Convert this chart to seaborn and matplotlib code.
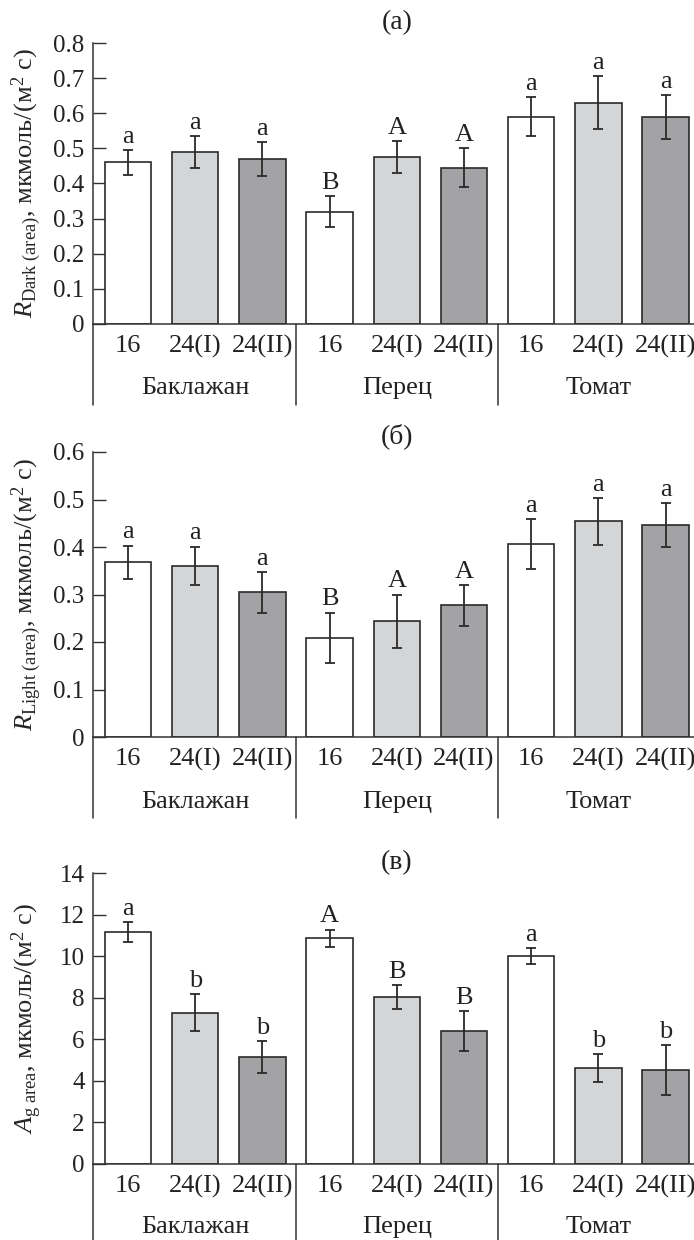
import numpy as np
import pandas as pd
import matplotlib
matplotlib.use("Agg")
import matplotlib.pyplot as plt
import seaborn as sns
from matplotlib.transforms import blended_transform_factory

# ---- data -------------------------------------------------------------
crops = ["Баклажан", "Перец", "Томат"]
regimes = ["16", "24(I)", "24(II)"]

r_dark = [0.46, 0.49, 0.47, 0.32, 0.475, 0.445, 0.59, 0.63, 0.59]
r_dark_err = [0.036, 0.045, 0.049, 0.044, 0.046, 0.056, 0.055, 0.076, 0.062]
r_dark_letters = ["a", "a", "a", "B", "A", "A", "a", "a", "a"]

r_light = [0.368, 0.361, 0.305, 0.209, 0.244, 0.277, 0.406, 0.454, 0.446]
r_light_err = [0.035, 0.040, 0.043, 0.053, 0.056, 0.043, 0.052, 0.050, 0.046]
r_light_letters = ["a", "a", "a", "B", "A", "A", "a", "a", "a"]

a_g = [11.17, 7.28, 5.15, 10.85, 8.03, 6.40, 10.0, 4.62, 4.51]
a_g_err = [0.47, 0.90, 0.75, 0.43, 0.58, 0.94, 0.39, 0.66, 1.20]
a_g_letters = ["a", "b", "b", "A", "B", "B", "a", "b", "b"]

palette = {"16": "#ffffff", "24(I)": "#d4d5d7", "24(II)": "#a2a3a7"}

# ---- style ------------------------------------------------------------
sns.set_style("ticks")
plt.rcParams["font.family"] = ["Liberation Serif", "DejaVu Serif"]
plt.rcParams["mathtext.fontset"] = "custom"
plt.rcParams["mathtext.rm"] = "Liberation Serif"
plt.rcParams["mathtext.it"] = "Liberation Serif:italic"
plt.rcParams["axes.linewidth"] = 1.1
plt.rcParams["axes.edgecolor"] = "#333333"
plt.rcParams["text.color"] = "#222222"
plt.rcParams["xtick.color"] = "#333333"
plt.rcParams["ytick.color"] = "#333333"
plt.rcParams["xtick.labelcolor"] = "#222222"
plt.rcParams["ytick.labelcolor"] = "#222222"

W, H = 694, 1240
fig = plt.figure(figsize=(W / 100, H / 100), dpi=100)

AX_LEFT = 93
AX_WIDTH = 607.5
DROP = 81  # length of the group divider lines below the x axis, px
FS = 19


def make_axes(top, bottom):
    return fig.add_axes([AX_LEFT / W, 1 - bottom / H, AX_WIDTH / W, (bottom - top) / H])


def panel(ax, values, errors, letters, ymax, ystep, ylabels, ylabel, title, title_y,
          group_y):
    df = pd.DataFrame({
        "pos": [f"{c} {r}" for c in crops for r in regimes],
        "regime": [r for c in crops for r in regimes],
        "value": values,
    })
    sns.barplot(data=df, x="pos", y="value", hue="regime", palette=palette,
                dodge=False, width=0.69, edgecolor="#2a2a2a", linewidth=1.2,
                errorbar=None, legend=False, ax=ax)
    x = np.arange(len(values))
    ax.errorbar(x, values, yerr=errors, fmt="none", ecolor="#2a2a2a",
                elinewidth=1.3, capsize=3.3, capthick=1.3, zorder=5)
    for xi, v, e, t in zip(x, values, errors, letters):
        ax.annotate(t, (xi, v + e), xytext=(0, 1.5), textcoords="offset points",
                    ha="center", va="bottom", fontsize=FS)

    ax.set_xlim(-0.52, len(values) - 0.48)
    ax.set_ylim(0, ymax)
    ticks = np.arange(0, ymax + ystep / 2, ystep)
    ax.set_yticks(ticks)
    ax.set_yticklabels(ylabels, fontsize=18)
    ax.tick_params(axis="y", direction="in", length=9, width=1.0, pad=6)
    ax.set_xticks(x)
    ax.set_xticklabels(regimes * len(crops), fontsize=FS)
    ax.tick_params(axis="x", length=0, pad=8)
    ax.set_xlabel("")
    ax.set_ylabel(ylabel, fontsize=19)
    ax.yaxis.set_label_coords((44 - AX_LEFT) / AX_WIDTH, 0.5)
    sns.despine(ax=ax)

    # group dividers and the extended left spine
    ax_h = ax.get_position().height * H
    drop = DROP / ax_h
    tr = blended_transform_factory(ax.transData, ax.transAxes)
    for xb in [-0.52, 2.5, 5.5]:
        ax.plot([xb, xb], [0, -drop], transform=tr, clip_on=False,
                color="#333333", lw=1.1)
    ybase = ax.get_position().y0 * H
    for k, c in enumerate(crops):
        ax.text(3 * k + 1, (H - group_y - ybase) / ax_h, c, transform=tr,
                ha="center", va="center", fontsize=FS)

    fig.text((AX_LEFT + AX_WIDTH / 2) / W, 1 - title_y / H, title,
             ha="center", va="center", fontsize=20)


ax1 = make_axes(43, 324)
panel(ax1, r_dark, r_dark_err, r_dark_letters, 0.8, 0.1,
      ["0", "0.1", "0.2", "0.3", "0.4", "0.5", "0.6", "0.7", "0.8"],
      r"$R_{\mathrm{Dark\ (area)}}$, мкмоль/(м$^{2}$ с)", "(а)", 23, 388)

ax2 = make_axes(452, 737)
panel(ax2, r_light, r_light_err, r_light_letters, 0.6, 0.1,
      ["0", "0.1", "0.2", "0.3", "0.4", "0.5", "0.6"],
      r"$R_{\mathrm{Light\ (area)}}$, мкмоль/(м$^{2}$ с)", "(б)", 436, 802)

ax3 = make_axes(873, 1164)
panel(ax3, a_g, a_g_err, a_g_letters, 14, 2,
      ["0", "2", "4", "6", "8", "10", "12", "14"],
      r"$A_{\mathrm{g\ area}}$, мкмоль/(м$^{2}$ с)", "(в)", 863, 1227)

fig.savefig("out.png", dpi=100)
